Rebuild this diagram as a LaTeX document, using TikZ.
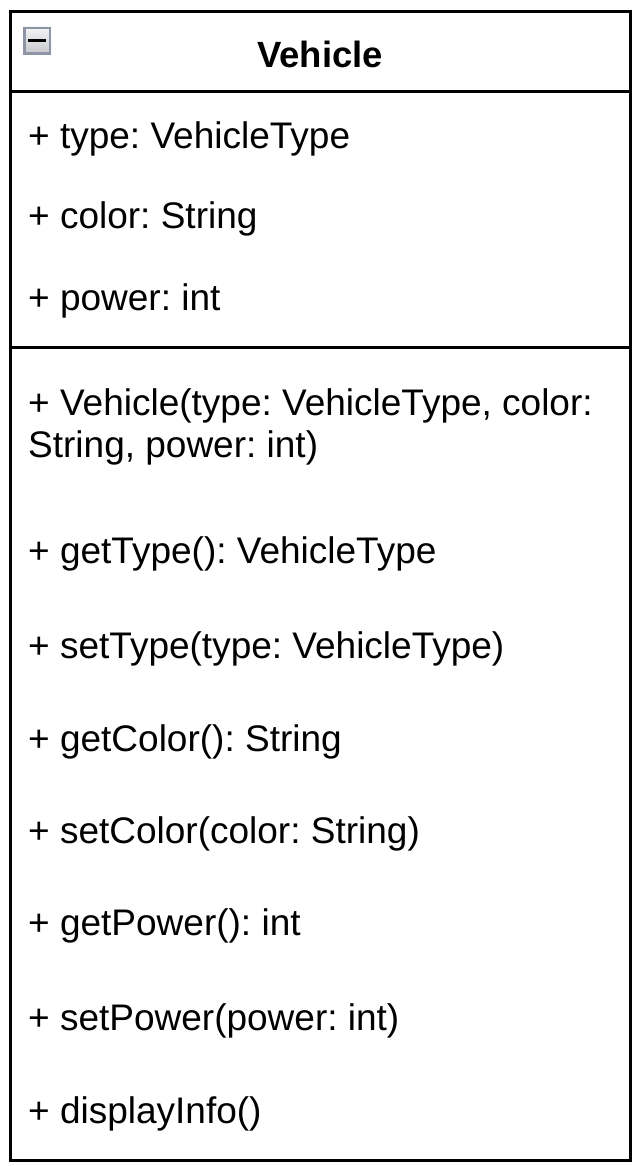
\documentclass[tikz,border=0pt]{standalone}
\usepackage{fontspec}
\setmainfont{Liberation Sans}
\frenchspacing
\begin{document}
\begin{tikzpicture}[x=1pt,y=-1pt,
  member/.style={anchor=base west,inner sep=0pt,font=\fontsize{37}{42}\selectfont,align=left},
  title/.style={anchor=base,inner sep=0pt,font=\fontsize{36.5}{42}\selectfont\bfseries},
  frame/.style={draw=black,line width=3pt},
  ]
\useasboundingbox (0,0) rectangle (642,1166);
\definecolor{iconedge}{HTML}{8E96A5}
\definecolor{icontop}{HTML}{F4F4F6}
\definecolor{iconbot}{HTML}{C4C6CC}

% class box with its two compartment dividers
\draw[frame] (10,12) rectangle (630,1160);
\draw[frame] (10,92) -- (630,92);
\draw[frame] (10,347) -- (630,347);

% collapse icon
\shade[top color=icontop,bottom color=iconbot] (23,27) rectangle (51,55);
\draw[iconedge,line width=2.5pt] (24.25,28.25) rectangle (49.75,53.75);
\draw[black,line width=3pt] (28,41) -- (46,41);

% class name
\node[title] (name) at (320,68) {Vehicle};

% attributes
\node[member] (a1) at (28,149) {+ type: VehicleType};
\node[member] (a2) at (28,229) {+ color: String};
\node[member] (a3) at (28,310) {+ power: int};

% operations (the base of a two-line node is its last line)
\node[member] (m1) at (28,457) {+ Vehicle(type: VehicleType, color:\\String, power: int)};
\node[member] (m2) at (28,563) {+ getType(): VehicleType};
\node[member] (m3) at (28,658) {+ setType(type: VehicleType)};
\node[member] (m4) at (28,751) {+ getColor(): String};
\node[member] (m5) at (28,843) {+ setColor(color: String)};
\node[member] (m6) at (28,935) {+ getPower(): int};
\node[member] (m7) at (28,1030) {+ setPower(power: int)};
\node[member] (m8) at (28,1123) {+ displayInfo()};
\end{tikzpicture}
\end{document}
